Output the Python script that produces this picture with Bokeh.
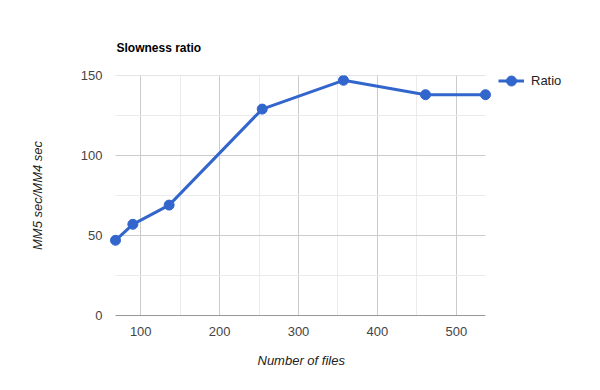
from bokeh.plotting import figure
from bokeh.embed import file_html
from bokeh.resources import INLINE
from bokeh.models import Range1d, FixedTicker, Legend, LegendItem, Title

# Data
files = [68, 90, 136, 254, 357, 461, 537]
ratio = [47, 57, 69, 129, 147, 138, 138]
x_ticks = [100, 200, 300, 400, 500]
x_minor = [150, 250, 350, 450]
y_ticks = [0, 50, 100, 150]
y_minor = [25, 75, 125]
series_name = "Ratio"
title_text = "Slowness ratio"
x_title = "Number of files"
y_title = "MM5 sec/MM4 sec"

FONT = "Liberation Sans"
BLUE = "#3366cc"
PAD_L = 7.6    # room left of first point (data units) so its marker is not clipped
PAD_R = 145.8  # room right of last point, used by the legend area

x0, x1 = files[0], files[-1]
p = figure(width=600, height=390, output_backend="svg", toolbar_location=None,
           x_range=Range1d(x0 - PAD_L, x1 + PAD_R), y_range=Range1d(0, 150),
           min_border_left=109, min_border_right=0,
           min_border_top=75, min_border_bottom=75)
p.outline_line_color = None
p.background_fill_color = "white"
p.border_fill_color = "white"

# Title
p.title.text = title_text
p.title.text_font = FONT
p.title.text_font_size = "12px"
p.title.text_font_style = "bold"
p.title.text_color = "#000000"
p.title.offset = 7
p.title.standoff = 41

# Axes
p.xaxis.ticker = FixedTicker(ticks=x_ticks, minor_ticks=x_minor)
p.yaxis.ticker = FixedTicker(ticks=y_ticks, minor_ticks=y_minor)
for ax in (p.xaxis[0], p.yaxis[0]):
    ax.major_tick_line_color = None
    ax.minor_tick_line_color = None
    ax.major_tick_out = 0
    ax.major_tick_in = 0
    ax.minor_tick_out = 0
    ax.minor_tick_in = 0
    ax.axis_line_color = None
    ax.major_label_text_font = FONT
    ax.major_label_text_font_size = "13px"
    ax.major_label_text_color = "#444444"
p.yaxis.axis_label = y_title
p.yaxis.axis_label_text_font = FONT
p.yaxis.axis_label_text_font_style = "italic"
p.yaxis.axis_label_text_color = "#222222"
p.yaxis.axis_label_text_font_size = "13px"
p.xaxis.major_label_standoff = 11
p.yaxis.major_label_standoff = 7
p.yaxis.axis_label_standoff = 33

# x-axis title, placed under the plotted span
xt = Title(text=x_title, align="left", offset=148, standoff=25,
           text_font=FONT, text_font_size="13px", text_font_style="italic",
           text_color="#222222")
p.add_layout(xt, "below")

# Grid: vertical lines from the grid, horizontal ones spanning the data only
p.xgrid.grid_line_color = "#cccccc"
p.xgrid.minor_grid_line_color = "#ebebeb"
p.ygrid.grid_line_color = None
p.segment(x0=[x0] * len(y_minor), x1=[x1] * len(y_minor), y0=y_minor, y1=y_minor,
          line_color="#ebebeb", line_width=1)
p.segment(x0=[x0] * (len(y_ticks) - 1), x1=[x1] * (len(y_ticks) - 1),
          y0=y_ticks[1:], y1=y_ticks[1:], line_color="#cccccc", line_width=1)
p.segment(x0=[x0], x1=[x1], y0=[y_ticks[0]], y1=[y_ticks[0]],
          line_color="#333333", line_width=1)

# Series
ln = p.line(files, ratio, line_color=BLUE, line_width=3)
sc = p.scatter(files, ratio, size=10, fill_color=BLUE, line_color=BLUE)

legend = Legend(items=[LegendItem(label=series_name, renderers=[ln, sc])],
                location=(389, 222), border_line_color=None,
                background_fill_alpha=0, label_text_font=FONT,
                label_text_font_size="13px", label_text_color="#222222",
                glyph_width=26, glyph_height=25, label_height=25,
                label_standoff=7, padding=0, margin=0)
p.add_layout(legend, "center")

open("out.html", "w").write(file_html(p, INLINE))
